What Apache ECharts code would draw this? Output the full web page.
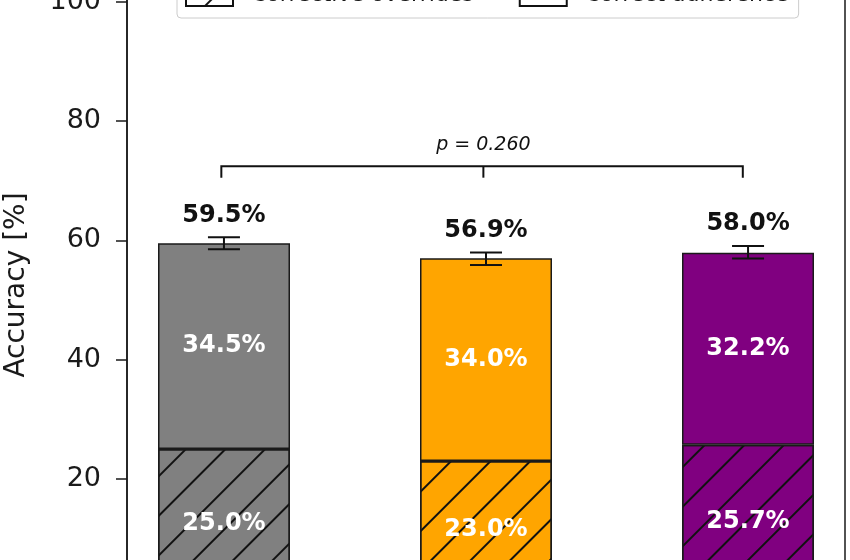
<!DOCTYPE html>
<html><head><meta charset="utf-8">
<script src="https://cdn.jsdelivr.net/npm/echarts@6/dist/echarts.min.js"></script>
<style>html,body{margin:0;padding:0;background:#fff}#c{width:850px;height:560px}</style>
</head><body><div id="c"></div>
<script>
// ---- data ----
const categories = ['Group 1', 'Group 2', 'Group 3'];
const positions = [0, 1, 2];
const barColors = ['#808080', '#FFA500', '#800080'];
const correctiveOverrides = [25.0, 23.0, 25.7];
const correctAdherence = [34.5, 34.0, 32.2];
const totals = [59.5, 56.9, 58.0];
const totalErrors = [1.0, 1.05, 1.05];
const yTickValues = [0, 20, 40, 60, 80, 100];
const seriesNames = ['Corrective overrides', 'Correct adherence'];
const pValueText = 'p = 0.260';
const bracketX = [-0.01, 0.99, 1.98];
const bracketLevel = 72.4;
const bracketDrop = 1.9;
const pTextLevel = 76.0;

// ---- chart ----
const FONT = '"DejaVu Sans", sans-serif';
const INK = '#1a1a1a';
const hatch = {
  symbol: 'rect', symbolSize: 1, color: '#111',
  dashArrayX: [1, 0], dashArrayY: [2, 26], rotation: -Math.PI / 4
};
const Y_MIN = 0, Y_MAX = 105;

const chart = echarts.init(document.getElementById('c'), null, { renderer: 'canvas' });

const barLabel = {
  show: true, position: 'inside', color: '#fff', fontSize: 24, fontWeight: 'bold', fontFamily: FONT,
  formatter: p => Number(p.value).toFixed(1) + '%'
};

const option = {
  animation: false,
  backgroundColor: '#fff',
  grid: [
    { left: 127, right: 5, top: -28, bottom: -38,
      show: true, borderColor: INK, borderWidth: 1.5, backgroundColor: 'transparent',
      containLabel: false, outerBoundsMode: 'none' },
    { left: 93, right: -29, top: -28, bottom: -38, show: false,
      containLabel: false, outerBoundsMode: 'none' }
  ],
  legend: {
    left: 177, top: -28, orient: 'horizontal',
    padding: [11, 10, 11, 8], itemWidth: 47, itemHeight: 22, itemGap: 45,
    backgroundColor: '#fff', borderColor: '#cccccc', borderWidth: 1, borderRadius: 4,
    selectedMode: false,
    textStyle: { fontSize: 22, color: INK, fontFamily: FONT, padding: [6, 0, 0, 13] },
    data: [
      { name: seriesNames[0], icon: 'rect', itemStyle: { color: '#fff', borderColor: '#111', borderWidth: 2, decal: hatch } },
      { name: seriesNames[1], icon: 'rect', itemStyle: { color: '#fff', borderColor: '#111', borderWidth: 2 } }
    ]
  },
  xAxis: [
    { type: 'value', gridIndex: 0, min: -0.37, max: 2.37, show: false },
    { type: 'category', gridIndex: 1, data: categories, show: false }
  ],
  yAxis: [
    {
      type: 'value', gridIndex: 0, min: Y_MIN, max: Y_MAX, interval: 20,
      axisLine: { show: true, onZero: false, lineStyle: { color: INK, width: 1.5 } },
      axisTick: { show: true, length: 11, lineStyle: { color: INK, width: 1.5 } },
      axisLabel: {
        fontSize: 27, color: INK, margin: 26, fontFamily: FONT,
        formatter: v => (yTickValues.indexOf(v) >= 0 ? String(v) : '')
      },
      splitLine: { show: false },
      name: 'Accuracy [%]', nameLocation: 'middle', nameGap: 96, nameRotate: 90,
      nameTextStyle: { fontSize: 28, color: INK, fontFamily: FONT }
    },
    { type: 'value', gridIndex: 1, min: Y_MIN, max: Y_MAX, interval: 20, show: false }
  ],
  series: [
    {
      name: seriesNames[0], type: 'bar', stack: 'acc', barWidth: 132,
      xAxisIndex: 1, yAxisIndex: 1,
      itemStyle: { borderColor: INK, borderWidth: 1.5 },
      label: barLabel,
      data: correctiveOverrides.map((v, i) => ({ value: v, itemStyle: { color: barColors[i], decal: hatch } }))
    },
    {
      name: seriesNames[1], type: 'bar', stack: 'acc', barWidth: 132,
      xAxisIndex: 1, yAxisIndex: 1,
      itemStyle: { borderColor: INK, borderWidth: 1.5 },
      label: barLabel,
      data: correctAdherence.map((v, i) => ({ value: v, itemStyle: { color: barColors[i] } }))
    },
    {
      type: 'custom', z: 10, silent: true, xAxisIndex: 0, yAxisIndex: 0,
      data: positions.map((x, i) => [x, totals[i], totalErrors[i]]),
      renderItem: (params, api) => {
        const x = api.value(0), y = api.value(1), e = api.value(2);
        const top = api.coord([x, y + e]), bot = api.coord([x, y - e]), mid = api.coord([x, y]);
        const hw = 16;
        const st = { stroke: '#111', lineWidth: 2 };
        return { type: 'group', children: [
          { type: 'line', shape: { x1: top[0], y1: top[1], x2: bot[0], y2: bot[1] }, style: st },
          { type: 'line', shape: { x1: top[0] - hw, y1: top[1], x2: top[0] + hw, y2: top[1] }, style: st },
          { type: 'line', shape: { x1: bot[0] - hw, y1: bot[1], x2: bot[0] + hw, y2: bot[1] }, style: st },
          { type: 'text', style: { x: mid[0], y: mid[1] - 28, text: y.toFixed(1) + '%', fill: '#111',
              fontSize: 24, fontWeight: 'bold', fontFamily: FONT, align: 'center', verticalAlign: 'middle' } }
        ] };
      }
    },
    {
      type: 'custom', z: 10, silent: true, xAxisIndex: 0, yAxisIndex: 0,
      data: [[bracketX[0], bracketX[1], bracketX[2], bracketLevel, bracketDrop, pTextLevel]],
      renderItem: (params, api) => {
        const x0 = api.value(0), xm = api.value(1), x1 = api.value(2);
        const lv = api.value(3), dr = api.value(4), tl = api.value(5);
        const a = api.coord([x0, lv - dr]), b = api.coord([x0, lv]), c = api.coord([x1, lv]), d = api.coord([x1, lv - dr]);
        const m0 = api.coord([xm, lv]), m1 = api.coord([xm, lv - dr]);
        const t = api.coord([xm, tl]);
        const st = { stroke: '#111', lineWidth: 2, fill: null };
        return { type: 'group', children: [
          { type: 'polyline', shape: { points: [a, b, c, d] }, style: st },
          { type: 'line', shape: { x1: m0[0], y1: m0[1], x2: m1[0], y2: m1[1] }, style: st },
          { type: 'text', style: { x: t[0], y: t[1], text: pValueText, fill: '#111',
              fontSize: 19, fontStyle: 'italic', fontFamily: FONT, align: 'center', verticalAlign: 'middle' } }
        ] };
      }
    }
  ]
};
chart.setOption(option);
</script>
</body></html>
